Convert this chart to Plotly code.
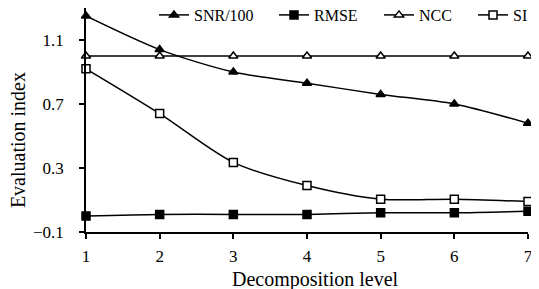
import plotly.graph_objects as go

levels = [1, 2, 3, 4, 5, 6, 7]
snr_100 = [1.25, 1.04, 0.90, 0.83, 0.76, 0.70, 0.58]
rmse = [0.00, 0.01, 0.01, 0.01, 0.02, 0.02, 0.03]
ncc = [1.00, 1.00, 1.00, 1.00, 1.00, 1.00, 1.00]
si = [0.92, 0.64, 0.335, 0.19, 0.105, 0.105, 0.09]
y_ticks = [-0.1, 0.3, 0.7, 1.1]

FONT = "Liberation Serif, Times New Roman, serif"

def trace(name, y, symbol, fill, legend):
    return go.Scatter(
        x=levels, y=y, name=name, mode="lines+markers", cliponaxis=False,
        legend=legend,
        line=dict(color="black", width=1.5, shape="spline", smoothing=0.8),
        marker=dict(symbol=symbol, size=8, color=fill,
                    line=dict(color="black", width=1.5)),
    )

fig = go.Figure()
fig.add_trace(trace("SNR/100", snr_100, "triangle-up", "black", "legend"))
fig.add_trace(trace("RMSE", rmse, "square", "black", "legend2"))
fig.add_trace(trace("NCC", ncc, "triangle-up", "white", "legend3"))
fig.add_trace(trace("SI", si, "square", "white", "legend4"))

def leg(x):
    return dict(orientation="h", xref="container", yref="container",
                x=x, xanchor="left", y=1 - 7 / 281, yanchor="middle",
                bgcolor="rgba(0,0,0,0)", font=dict(family=FONT, size=16))

# page body has an 8px margin, so the figure is sized/shifted to compensate
fig.update_layout(
    width=531, height=281,
    margin=dict(l=78, r=11, t=0, b=57, autoexpand=False),
    paper_bgcolor="white", plot_bgcolor="white",
    font=dict(family=FONT, size=17, color="black"),
    showlegend=True,
    legend=leg(146 / 531), legend2=leg(266 / 531),
    legend3=leg(371 / 531), legend4=leg(465 / 531),
    xaxis=dict(range=[0.9999, 7.0001], tickvals=levels, showgrid=False, zeroline=False,
               showline=True, linecolor="black", linewidth=1.5,
               ticks="outside", ticklen=5, tickwidth=1.5, tickcolor="black",
               ticklabelstandoff=3,
               tickfont=dict(family=FONT, size=17)),
    yaxis=dict(range=[-0.1, 1.3], tickvals=y_ticks, ticktext=["\u22120.1", "0.3", "0.7", "1.1"],
               showgrid=False, zeroline=False,
               showline=True, linecolor="black", linewidth=1.5,
               ticks="outside", ticklen=5, tickwidth=1.5, tickcolor="black",
               ticklabelstandoff=12,
               tickfont=dict(family=FONT, size=17)),
)
fig.add_annotation(text="Evaluation index", textangle=-90, xref="paper", yref="paper",
                   x=-0.154, xanchor="center", y=0.41, yanchor="middle", showarrow=False,
                   font=dict(family=FONT, size=20))
fig.add_annotation(text="Decomposition level", xref="paper", yref="paper",
                   x=0.52, xanchor="center", y=-0.21, yanchor="middle", showarrow=False,
                   font=dict(family=FONT, size=20))

fig.write_html("out.html")
